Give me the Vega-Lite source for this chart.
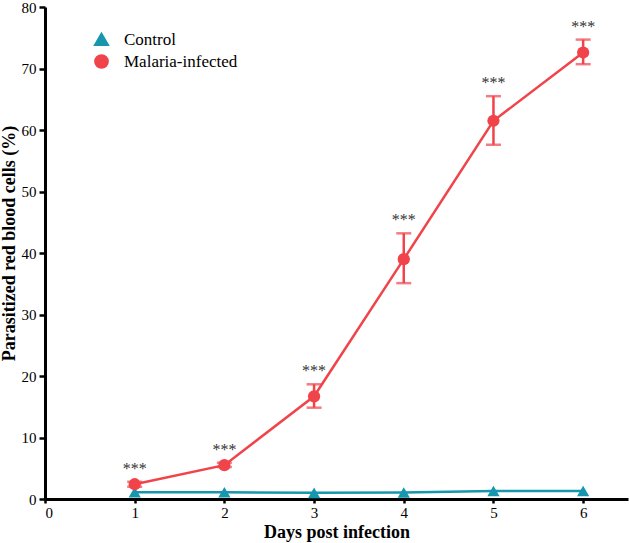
{
  "$schema": "https://vega.github.io/schema/vega-lite/v6.json",
  "autosize": "none",
  "width": 583,
  "height": 492,
  "padding": {"left": 45, "top": 7, "right": 2, "bottom": 44},
  "background": "white",
  "config": {
    "view": {"stroke": null},
    "font": "Liberation Serif",
    "axis": {"grid": false, "domainColor": "black", "domainWidth": 3, "tickColor": "black", "tickWidth": 2.5, "labelFont": "Liberation Serif", "labelFontSize": 15, "labelColor": "black", "titleFont": "Liberation Serif", "titleFontSize": 18, "titleFontWeight": "bold", "titleColor": "black"},
    "legend": {"title": null, "orient": "none", "legendX": 48, "legendY": 24, "labelFont": "Liberation Serif", "labelFontSize": 17, "labelColor": "black", "rowPadding": 0, "labelOffset": 14, "symbolSize": 150, "symbolStrokeWidth": 2.5}
  },
  "data": {
    "values": [
      {"day": 1, "mean": 1.1, "lo": 1.0, "hi": 1.2, "group": "Control", "stars": ""},
      {"day": 2, "mean": 1.1, "lo": 1.0, "hi": 1.2, "group": "Control", "stars": ""},
      {"day": 3, "mean": 1.0, "lo": 0.9, "hi": 1.1, "group": "Control", "stars": ""},
      {"day": 4, "mean": 1.05, "lo": 0.95, "hi": 1.15, "group": "Control", "stars": ""},
      {"day": 5, "mean": 1.3, "lo": 1.2, "hi": 1.4, "group": "Control", "stars": ""},
      {"day": 6, "mean": 1.3, "lo": 1.2, "hi": 1.4, "group": "Control", "stars": ""},
      {"day": 1, "mean": 2.4, "lo": 2.0, "hi": 2.8, "group": "Malaria-infected", "stars": "***"},
      {"day": 2, "mean": 5.5, "lo": 5.2, "hi": 5.9, "group": "Malaria-infected", "stars": "***"},
      {"day": 3, "mean": 16.7, "lo": 14.85, "hi": 18.65, "group": "Malaria-infected", "stars": "***"},
      {"day": 4, "mean": 39.0, "lo": 35.1, "hi": 43.2, "group": "Malaria-infected", "stars": "***"},
      {"day": 5, "mean": 61.5, "lo": 57.6, "hi": 65.5, "group": "Malaria-infected", "stars": "***"},
      {"day": 6, "mean": 72.6, "lo": 70.7, "hi": 74.7, "group": "Malaria-infected", "stars": "***"}
    ]
  },
  "encoding": {
    "x": {"field": "day", "type": "quantitative", "scale": {"domain": [0, 6.5], "nice": false}, "axis": {"values": [0, 1, 2, 3, 4, 5, 6], "title": "Days post infection", "tickSize": 4, "labelPadding": 2, "titlePadding": 3}}
  },
  "layer": [
    {
      "transform": [{"filter": "datum.group === 'Malaria-infected'"}],
      "mark": {"type": "errorbar", "ticks": {"size": 15, "thickness": 2.5}, "thickness": 2.5, "color": "#f0444a"},
      "encoding": {
        "y": {"field": "lo", "type": "quantitative", "scale": {"domain": [0, 80], "nice": false}, "axis": {"values": [0, 10, 20, 30, 40, 50, 60, 70, 80], "title": "Parasitized red blood cells (%)", "tickSize": 6, "labelPadding": 3, "titleX": -27, "titleY": 236, "titleBaseline": "bottom"}},
        "y2": {"field": "hi"}
      }
    },
    {
      "mark": {"type": "line", "strokeWidth": 2.5},
      "encoding": {
        "y": {"field": "mean", "type": "quantitative"},
        "color": {"field": "group", "type": "nominal", "scale": {"domain": ["Control", "Malaria-infected"], "range": ["#1797ad", "#f0444a"]}}
      }
    },
    {
      "mark": {"type": "point", "filled": true, "opacity": 1, "size": 150},
      "encoding": {
        "y": {"field": "mean", "type": "quantitative"},
        "color": {"field": "group", "type": "nominal"},
        "shape": {"field": "group", "type": "nominal", "scale": {"domain": ["Control", "Malaria-infected"], "range": ["triangle-up", "circle"]}}
      }
    },
    {
      "transform": [{"filter": "datum.group === 'Malaria-infected'"}],
      "mark": {"type": "text", "font": "Liberation Serif", "fontSize": 16, "color": "#333333", "baseline": "bottom", "dy": -5},
      "encoding": {
        "y": {"field": "hi", "type": "quantitative"},
        "text": {"field": "stars"}
      }
    }
  ]
}
